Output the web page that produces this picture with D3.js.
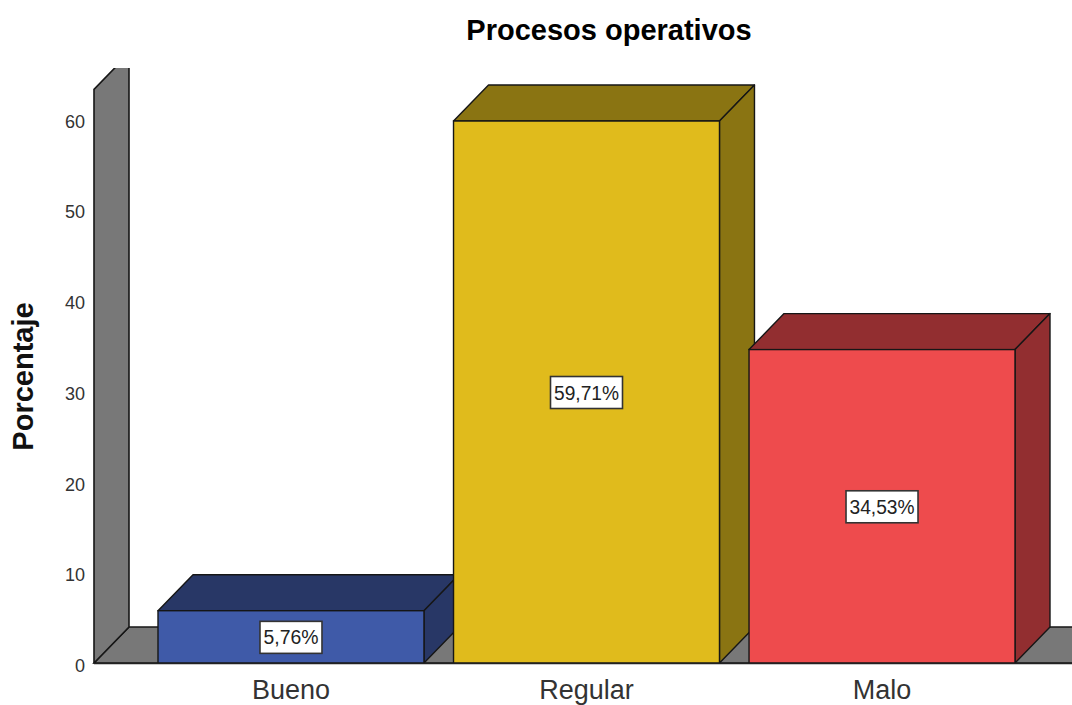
<!DOCTYPE html>
<html><head><meta charset="utf-8">
<script src="https://cdn.jsdelivr.net/npm/d3@7"></script>
<style>html,body{margin:0;background:#fff}svg{display:block}text{font-family:"Liberation Sans",Arial,sans-serif}</style>
</head><body><div id="c"></div>
<script>
const categories = ["Bueno", "Regular", "Malo"];
const values = [5.76, 59.71, 34.53];
const valueLabels = ["5,76%", "59,71%", "34,53%"];
const frontColors = ["#3f5aa8", "#e0bb1c", "#ee4b4d"];
const sideColors = ["#283766", "#8a7412", "#922e30"];
const yTicks = [0, 10, 20, 30, 40, 50, 60];
const titleText = "Procesos operativos";
const yTitle = "Porcentaje";

const W = 1072, H = 705, dx = 35, dy = 36, stroke = "#161616", wallColor = "#787878";
const svg = d3.select("#c").append("svg").attr("width", W).attr("height", H);
const x = d3.scaleBand().domain(categories).range([158, 1015]).paddingInner(0.1).paddingOuter(0);
const y = d3.scaleLinear().domain([0, 60]).range([663, 118.4]);
const poly = pts => d3.line()(pts) + "Z";

svg.append("clipPath").attr("id", "plot").append("rect").attr("x", 0).attr("y", 68).attr("width", W).attr("height", H - 68);
const g = svg.append("g").attr("clip-path", "url(#plot)");
const x0 = 94, wallTop = y(63.2);
g.append("path").attr("d", poly([[x0, y(0)], [x0 + dx, y(0) - dy], [W + 5, y(0) - dy], [W + 5, y(0)]]))
  .attr("fill", wallColor).attr("stroke", stroke).attr("stroke-width", 1.6);
g.append("path").attr("d", poly([[x0, y(0)], [x0, wallTop], [x0 + dx, wallTop - dy], [x0 + dx, y(0) - dy]]))
  .attr("fill", wallColor).attr("stroke", stroke).attr("stroke-width", 1.6).attr("stroke-linejoin", "round");

const bars = g.selectAll("g.bar").data(values).join("g").attr("class", "bar");
bars.each(function (v, i) {
  const b = d3.select(this), l = x(categories[i]), r = l + x.bandwidth(), t = y(v), f = y(0);
  b.append("path").attr("d", poly([[l, t], [l + dx, t - dy], [r + dx, t - dy], [r, t]]))
    .attr("fill", sideColors[i]).attr("stroke", stroke).attr("stroke-width", 1.4).attr("stroke-linejoin", "round");
  b.append("path").attr("d", poly([[r, t], [r + dx, t - dy], [r + dx, f - dy], [r, f]]))
    .attr("fill", sideColors[i]).attr("stroke", stroke).attr("stroke-width", 1.4).attr("stroke-linejoin", "round");
  b.append("rect").attr("x", l).attr("y", t).attr("width", x.bandwidth()).attr("height", f - t)
    .attr("fill", frontColors[i]).attr("stroke", stroke).attr("stroke-width", 1.4);
});

svg.append("line").attr("x1", x0).attr("x2", W).attr("y1", y(0) + 0.5).attr("y2", y(0) + 0.5).attr("stroke", "#222").attr("stroke-width", 1.6);

const labelWidths = [62, 72, 72];
categories.forEach((c, i) => {
  const cx = x(c) + x.bandwidth() / 2, cy = (y(values[i]) + y(0)) / 2 + 0.5;
  const w = labelWidths[i];
  svg.append("rect").attr("x", cx - w / 2).attr("y", cy - 16).attr("width", w).attr("height", 32)
    .attr("fill", "#fff").attr("stroke", "#333").attr("stroke-width", 1.6);
  svg.append("text").attr("x", cx).attr("y", cy + 7).attr("text-anchor", "middle")
    .attr("font-size", 20).attr("fill", "#222").attr("textLength", w - 7).attr("lengthAdjust", "spacingAndGlyphs").text(valueLabels[i]);
});

const yAxis = d3.axisLeft(y).tickValues(yTicks).tickSize(0).tickPadding(9).tickFormat(d3.format("d"));
const ya = svg.append("g").attr("transform", `translate(${x0},3)`).call(yAxis);
ya.select(".domain").remove();
ya.selectAll("text").attr("font-size", 18).attr("fill", "#333").style("font-family", '"Liberation Sans",Arial,sans-serif');

const xAxis = d3.axisBottom(x).tickSize(0).tickPadding(17);
const xa = svg.append("g").attr("transform", `translate(0,${y(0)})`).call(xAxis);
xa.select(".domain").remove();
xa.selectAll("text").attr("font-size", 27).attr("fill", "#333").style("font-family", '"Liberation Sans",Arial,sans-serif').attr("font-weight", 400);

svg.append("text").attr("x", 609).attr("y", 40).attr("text-anchor", "middle")
  .attr("font-size", 29).attr("font-weight", 700).attr("fill", "#000").text(titleText);
svg.append("text").attr("transform", "translate(33,376.5) rotate(-90)").attr("text-anchor", "middle")
  .attr("font-size", 29).attr("font-weight", 700).attr("fill", "#111").text(yTitle);
</script></body></html>
